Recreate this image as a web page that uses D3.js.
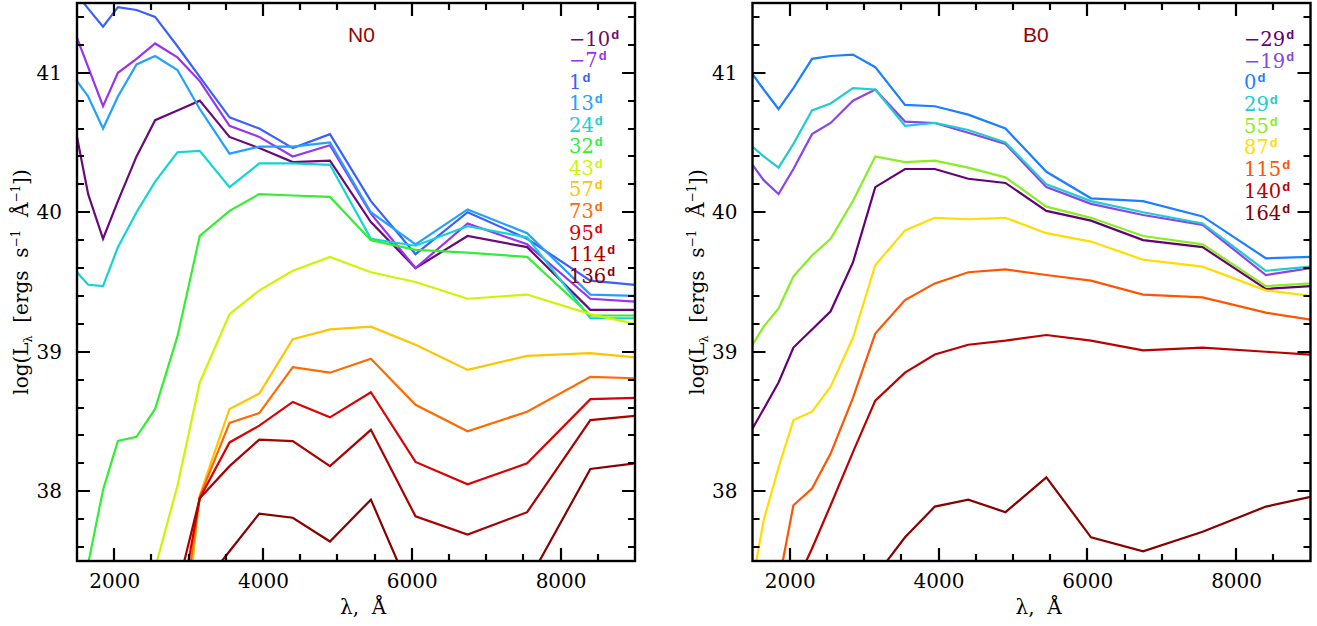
<!DOCTYPE html>
<html>
<head>
<meta charset="utf-8">
<script src="https://cdn.jsdelivr.net/npm/d3@7"></script>
<style>
  body { margin: 0; background: #fff; }
  svg { display: block; }
  .tick text { font-family: 'DejaVu Serif', serif; font-size: 20px; fill: #000; }
</style>
</head>
<body>
<script>
// wavelength grid (Angstrom), shared by both models
const wavelengths = [1500, 1650, 1850, 2050, 2300, 2550, 2850, 3150, 3550, 3950, 4400, 4900, 5450, 6050, 6750, 7550, 8400, 9000]

// N0 model, log L_lambda per epoch
const n0Epochs = ['−10', '−7', '1', '13', '24', '32', '43', '57', '73', '95', '114', '136']
const n0Colors = ['#6a0a78', '#9933ee', '#3a5fff', '#22a0ff', '#11d4d4', '#33ee33', '#ccf500', '#ffc400', '#ff6a00', '#dd0000', '#aa0000', '#880000']
const n0m10 = [40.54, 40.13, 39.81, 40.08, 40.40, 40.66, 40.73, 40.80, 40.54, 40.46, 40.36, 40.37, 39.93, 39.60, 39.83, 39.75, 39.30, 39.30]
const n0m7 = [41.25, 41.04, 40.76, 41.00, 41.10, 41.21, 41.11, 40.94, 40.62, 40.54, 40.40, 40.48, 39.99, 39.60, 39.92, 39.77, 39.38, 39.36]
const n0p1 = [41.56, 41.46, 41.33, 41.47, 41.45, 41.40, 41.19, 40.97, 40.68, 40.60, 40.46, 40.56, 40.08, 39.70, 40.00, 39.81, 39.51, 39.48]
const n0p13 = [40.94, 40.83, 40.60, 40.83, 41.06, 41.12, 41.02, 40.74, 40.42, 40.47, 40.47, 40.50, 40.00, 39.77, 40.02, 39.85, 39.41, 39.40]
const n0p24 = [39.57, 39.48, 39.47, 39.75, 40.00, 40.22, 40.43, 40.44, 40.18, 40.35, 40.35, 40.34, 39.81, 39.76, 39.90, 39.82, 39.24, 39.24]
const n0p32 = [37.00, 37.48, 38.01, 38.36, 38.39, 38.59, 39.11, 39.83, 40.01, 40.13, 40.12, 40.11, 39.80, 39.73, 39.71, 39.68, 39.26, 39.26]
const n0p43 = [null, null, null, null, 36.90, 37.45, 38.04, 38.78, 39.27, 39.44, 39.58, 39.68, 39.57, 39.50, 39.38, 39.41, 39.27, 39.20]
const n0p57 = [null, null, null, null, null, null, 36.50, 37.97, 38.59, 38.70, 39.09, 39.16, 39.18, 39.05, 38.87, 38.97, 38.99, 38.96]
const n0p73 = [null, null, null, null, null, null, 36.80, 37.96, 38.49, 38.56, 38.89, 38.85, 38.95, 38.62, 38.43, 38.57, 38.82, 38.81]
const n0p95 = [null, null, null, null, null, null, 37.06, 37.95, 38.35, 38.47, 38.64, 38.53, 38.71, 38.21, 38.05, 38.20, 38.66, 38.67]
const n0p114 = [null, null, null, null, null, null, 37.30, 37.95, 38.18, 38.37, 38.36, 38.18, 38.44, 37.82, 37.69, 37.85, 38.51, 38.54]
const n0p136 = [null, null, null, null, null, null, null, 37.30, 37.57, 37.84, 37.81, 37.64, 37.94, 37.20, 37.05, 37.34, 38.16, 38.20]
const n0Series = [n0m10, n0m7, n0p1, n0p13, n0p24, n0p32, n0p43, n0p57, n0p73, n0p95, n0p114, n0p136]

// B0 model
const b0Epochs = ['−29', '−19', '0', '29', '55', '87', '115', '140', '164']
const b0Colors = ['#660077', '#8844ee', '#1a80ff', '#22cccc', '#88ee22', '#ffdd00', '#ff5500', '#bb0000', '#880000']
const b0m29 = [38.45, 38.59, 38.78, 39.03, 39.16, 39.29, 39.64, 40.18, 40.31, 40.31, 40.24, 40.21, 40.01, 39.94, 39.80, 39.75, 39.45, 39.47]
const b0m19 = [40.34, 40.23, 40.13, 40.31, 40.56, 40.64, 40.80, 40.88, 40.65, 40.64, 40.57, 40.49, 40.18, 40.06, 39.98, 39.91, 39.55, 39.60]
const b0p0 = [40.99, 40.88, 40.74, 40.89, 41.10, 41.12, 41.13, 41.04, 40.77, 40.76, 40.70, 40.60, 40.29, 40.10, 40.08, 39.97, 39.67, 39.68]
const b0p29 = [40.47, 40.40, 40.32, 40.49, 40.73, 40.78, 40.89, 40.88, 40.62, 40.64, 40.59, 40.50, 40.20, 40.08, 40.00, 39.92, 39.58, 39.61]
const b0p55 = [39.05, 39.18, 39.31, 39.54, 39.69, 39.81, 40.08, 40.40, 40.36, 40.37, 40.32, 40.25, 40.04, 39.96, 39.83, 39.77, 39.47, 39.49]
const b0p87 = [37.35, 37.79, 38.17, 38.51, 38.57, 38.75, 39.10, 39.62, 39.87, 39.96, 39.95, 39.96, 39.85, 39.79, 39.66, 39.61, 39.44, 39.40]
const b0p115 = [null, null, 37.34, 37.90, 38.02, 38.27, 38.67, 39.13, 39.37, 39.49, 39.57, 39.59, 39.55, 39.51, 39.41, 39.39, 39.28, 39.23]
const b0p140 = [null, null, null, 37.30, 37.59, 37.90, 38.28, 38.65, 38.85, 38.98, 39.05, 39.08, 39.12, 39.08, 39.01, 39.03, 39.00, 38.98]
const b0p164 = [null, null, null, null, null, null, null, 37.39, 37.67, 37.89, 37.94, 37.85, 38.10, 37.67, 37.57, 37.71, 37.89, 37.96]
const b0Series = [b0m29, b0m19, b0p0, b0p29, b0p55, b0p87, b0p115, b0p140, b0p164]

const xDomain = [1500, 9000]
const yDomain = [37.5, 41.5]
const xMajor = [2000, 4000, 6000, 8000]
const yMajor = [38, 39, 40, 41]

const width = 1317
const height = 626
const plotTop = 3
const plotBottom = 561
const majorLen = 13
const minorLen = 7

function Panel (svg, opts) {
  const x = d3.scaleLinear().domain(xDomain).range([opts.left, opts.right])
  const y = d3.scaleLinear().domain(yDomain).range([plotBottom, plotTop])
  const xMinor = d3.range(2500, 9000, 500).filter(v => !xMajor.includes(v))
  const yMinor = d3.range(37.6, 41.5, 0.2).filter(v => !yMajor.some(m => Math.abs(m - v) < 1e-6))

  const g = svg.append('g')

  g.append('clipPath').attr('id', 'clip-' + opts.id)
    .append('rect')
    .attr('x', opts.left).attr('y', plotTop)
    .attr('width', opts.right - opts.left).attr('height', plotBottom - plotTop)

  const line = d3.line()
    .defined(d => d[1] !== null)
    .x(d => x(d[0]))
    .y(d => y(d[1]))

  g.append('g')
    .attr('clip-path', 'url(#clip-' + opts.id + ')')
    .selectAll('path')
    .data(opts.series.map((s, i) => ({ color: opts.colors[i], pts: wavelengths.map((w, j) => [w, s[j]]) })))
    .enter()
    .append('path')
    .attr('fill', 'none')
    .attr('stroke', d => d.color)
    .attr('stroke-width', 2.2)
    .attr('d', d => line(d.pts))

  // tick labels from d3 axes
  const xAxis = g.append('g').attr('transform', 'translate(0,' + plotBottom + ')')
    .call(d3.axisBottom(x).tickValues(xMajor).tickSize(0).tickPadding(13).tickFormat(d3.format('d')))
  const yAxis = g.append('g').attr('transform', 'translate(' + opts.left + ',0)')
    .call(d3.axisLeft(y).tickValues(yMajor).tickSize(0).tickPadding(15).tickFormat(d3.format('d')))
  xAxis.select('.domain').remove()
  yAxis.select('.domain').remove()

  // tick marks, pointing inward on all four sides
  const xTicks = xMajor.map(v => ({ v, len: majorLen })).concat(xMinor.map(v => ({ v, len: minorLen })))
  const yTicks = yMajor.map(v => ({ v, len: majorLen })).concat(yMinor.map(v => ({ v, len: minorLen })))
  const tickPath = []
  xTicks.forEach(d => {
    const px = Math.round(x(d.v))
    tickPath.push('M' + px + ',' + plotBottom + 'V' + (plotBottom - d.len))
    tickPath.push('M' + px + ',' + plotTop + 'V' + (plotTop + d.len))
  })
  yTicks.forEach(d => {
    const py = Math.round(y(d.v))
    tickPath.push('M' + opts.left + ',' + py + 'H' + (opts.left + d.len))
    tickPath.push('M' + opts.right + ',' + py + 'H' + (opts.right - d.len))
  })
  g.append('path')
    .attr('d', tickPath.join(''))
    .attr('fill', 'none')
    .attr('stroke', '#000')
    .attr('stroke-width', 2.2)

  g.append('rect')
    .attr('x', opts.left).attr('y', plotTop)
    .attr('width', opts.right - opts.left).attr('height', plotBottom - plotTop)
    .attr('fill', 'none').attr('stroke', '#000').attr('stroke-width', 2.4)

  // axis titles
  g.append('text')
    .attr('x', opts.left + 263).attr('y', 614)
    .style('white-space', 'pre')
    .style('font-family', "'DejaVu Serif', serif").style('font-size', '20px')
    .text('λ,  Å')

  const yl = g.append('text')
    .attr('transform', 'translate(' + (opts.left - 49) + ',' + ((plotTop + plotBottom) / 2) + ') rotate(-90)')
    .attr('text-anchor', 'middle')
    .style('white-space', 'pre')
    .style('font-family', "'DejaVu Serif', serif").style('font-size', '20px')
  yl.append('tspan').text('log(L')
  yl.append('tspan').text('λ').style('font-size', '11px').attr('dy', 4)
  yl.append('tspan').text('  [ergs  s').attr('dy', -4)
  yl.append('tspan').text('−1').style('font-size', '12px').attr('dy', -8)
  yl.append('tspan').text('  Å').attr('dy', 8)
  yl.append('tspan').text('−1').style('font-size', '12px').attr('dy', -8)
  yl.append('tspan').text('])').attr('dy', 8)

  // model name
  g.append('text')
    .attr('x', opts.titleX).attr('y', 41.5)
    .style('font-family', "'Liberation Sans', Arial, sans-serif").style('font-size', '21px')
    .attr('fill', '#990000')
    .text(opts.name)

  // epoch legend
  const rowY = d3.scaleLinear().domain([0, opts.epochs.length - 1]).range([45.8, opts.legendLast])
  const labels = g.selectAll('text.epoch')
    .data(opts.epochs)
    .enter()
    .append('text')
    .attr('class', 'epoch')
    .attr('x', opts.legendX)
    .attr('y', (d, i) => rowY(i))
    .attr('fill', (d, i) => opts.colors[i])
    .style('font-family', "'DejaVu Serif', serif").style('font-size', '19.5px')
  labels.append('tspan').text(d => d)
  labels.append('tspan')
    .text('d')
    .attr('dx', 1).attr('dy', -7)
    .style('font-family', "'Liberation Sans', Arial, sans-serif")
    .style('font-weight', 'bold').style('font-size', '13px')
}

function main () {
  const svg = d3.select('body').append('svg')
    .attr('width', width).attr('height', height)

  Panel(svg, {
    id: 'n0', name: 'N0', left: 77, right: 635, titleX: 348,
    legendX: 569, legendLast: 282.6,
    epochs: n0Epochs, colors: n0Colors, series: n0Series
  })
  Panel(svg, {
    id: 'b0', name: 'B0', left: 752.5, right: 1310.5, titleX: 1023,
    legendX: 1244, legendLast: 219.5,
    epochs: b0Epochs, colors: b0Colors, series: b0Series
  })
}

main()
</script>
</body>
</html>
